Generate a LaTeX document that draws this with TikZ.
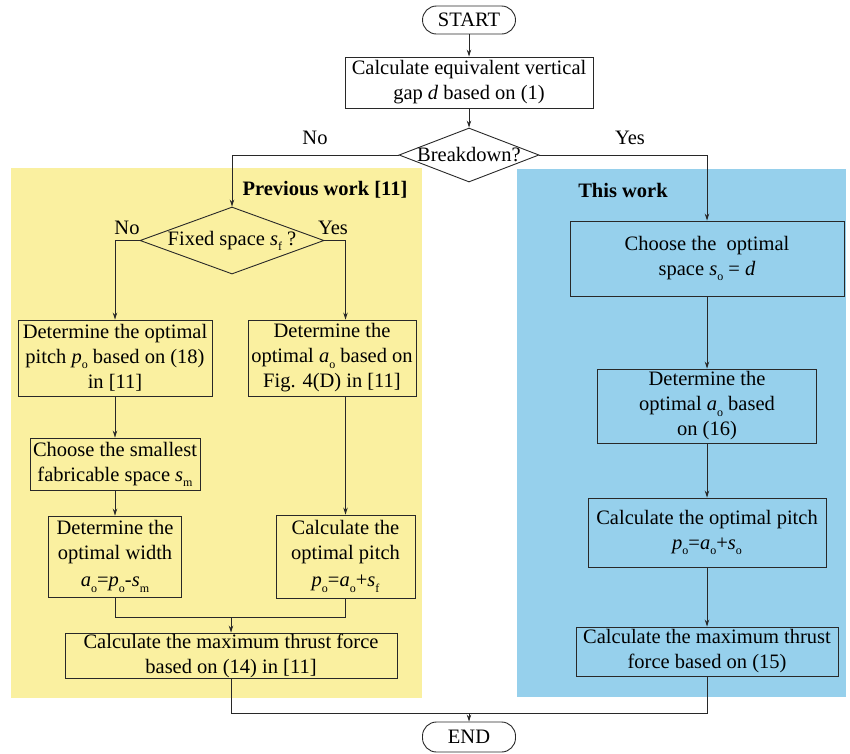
\documentclass[tikz,border=0pt]{standalone}
\usepackage{fontspec}
\setmainfont{Liberation Serif}
\usetikzlibrary{shapes.geometric,arrows.meta,calc}
\definecolor{panelY}{RGB}{250,240,160}
\definecolor{panelB}{RGB}{150,208,236}
\definecolor{lineC}{RGB}{40,40,40}
\newcommand{\vsub}[2]{\textit{#1}\raisebox{-0.55ex}{\fontsize{12}{12}\selectfont #2}}
\begin{document}
\begin{tikzpicture}[x=1pt,y=-1pt,
  font=\fontsize{20.5}{25}\selectfont,
  conn/.style={draw=lineC,line width=0.8pt},
  arr/.style={conn,-{Stealth[length=7pt,width=4.5pt]}},
  box/.style={draw=lineC,line width=0.9pt,align=center,inner sep=1pt},
  term/.style={draw=lineC,line width=0.9pt,rounded corners=14pt,minimum width=93pt},
  dec/.style={draw=lineC,line width=0.9pt,diamond,inner sep=0pt},
  ttl/.style={font=\fontsize{20.5}{25}\selectfont\bfseries}]
\useasboundingbox (0,0) rectangle (850,753);
% panels
\fill[panelY] (11,168) rectangle (422,698);
\fill[panelB] (517,169) rectangle (846,697);
\node[ttl] (ttlA) at (325,190) {Previous work [11]};
\node[ttl] (ttlB) at (623,190) {This work};
% top
\node[term,minimum height=28pt] (start) at (469,20) {START};
\node[box,minimum width=248pt,minimum height=51pt] (gap) at (469,82.5) {Calculate equivalent vertical\\gap \textit{d} based on (1)};
\node[dec,minimum width=140pt,minimum height=54pt,label=center:Breakdown?] (bd) at (469,155) {};
\node (no1) at (315,138) {No};
\node (yes1) at (630,138) {Yes};
% left panel
\node[dec,minimum width=184pt,minimum height=67pt,label=center:{Fixed space \vsub{s}{f} ?}] (fs) at (232,240.5) {};
\node (no2) at (127,228) {No};
\node (yes2) at (333,228) {Yes};
\node[box,minimum width=194pt,minimum height=76pt] (L1) at (115,358) {Determine the optimal\\pitch \vsub{p}{o} based on (18)\\in [11]};
\node[box,minimum width=168pt,minimum height=76pt] (R1) at (332,358) {Determine the\\optimal \vsub{a}{o} based on\\Fig. 4(D) in [11]};
\node[box,minimum width=170pt,minimum height=52pt] (L2) at (115,464) {Choose the smallest\\fabricable space \vsub{s}{m}};
\node[box,minimum width=133pt,minimum height=81pt] (L3) at (115,556.5) {Determine the\\optimal width\\[2pt]\vsub{a}{o}=\vsub{p}{o}-\vsub{s}{m}};
\node[box,minimum width=139pt,minimum height=83pt] (R3) at (345.5,556.5) {Calculate the\\optimal pitch\\[2pt]\vsub{p}{o}=\vsub{a}{o}+\vsub{s}{f}};
\node[box,minimum width=332pt,minimum height=45pt,inner sep=0pt] (L4) at (231,655.5) {Calculate the maximum thrust force\\based on (14) in [11]};
% right panel
\node[box,minimum width=274pt,minimum height=75pt] (c1) at (707,258.5) {Choose the\ \ optimal\\space \vsub{s}{o} = \textit{d}};
\node[box,minimum width=219pt,minimum height=74pt] (c2) at (707,406) {Determine the\\optimal \vsub{a}{o} based\\on (16)};
\node[box,minimum width=238pt,minimum height=69pt] (c3) at (707,532.5) {Calculate the optimal pitch\\\vsub{p}{o}=\vsub{a}{o}+\vsub{s}{o}};
\node[box,minimum width=262pt,minimum height=49pt,inner sep=0pt] (c4) at (707,651.5) {Calculate the maximum thrust\\force based on (15)};
\node[term,minimum height=30pt] (fin) at (469,737) {END};
% connectors
\draw[arr] (start.south) -- (gap.north);
\draw[arr] (gap.south) -- (bd.north);
\draw[arr] (bd.west) -| (fs.north);
\draw[arr] (bd.east) -| (c1.north);
\draw[arr] (fs.west) -| (L1.north);
\draw[arr] (fs.east) -| (R3.north |- R1.north);
\draw[arr] (L1.south) -- (L2.north);
\draw[arr] (L2.south) -- (L3.north);
\draw[arr] (R3.north |- R1.south) -- (R3.north);
\coordinate (mg) at (231,617);
\draw[conn] (L3.south) |- (mg) -| (R3.south);
\draw[arr] (mg) -- (L4.north);
\draw[arr] (c1.south) -- (c2.north);
\draw[arr] (c2.south) -- (c3.north);
\draw[arr] (c3.south) -- (c4.north);
\coordinate (ej) at (469,713);
\draw[conn] (L4.south) |- (ej) -| (c4.south);
\draw[arr] (ej) -- (fin.north);
\end{tikzpicture}
\end{document}
